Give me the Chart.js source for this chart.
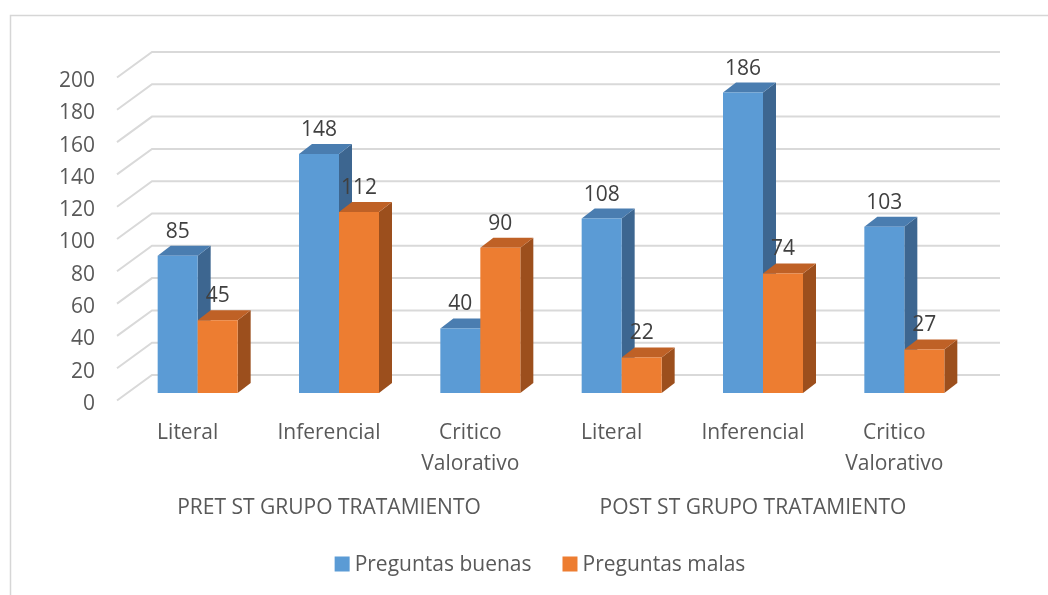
<!DOCTYPE html>
<html>
<head>
<meta charset="utf-8">
<script src="https://cdn.jsdelivr.net/npm/chart.js@4.4.1/dist/chart.umd.min.js"></script>
<style>
  html, body { margin: 0; padding: 0; background: #fff; }
  canvas { display: block; }
</style>
</head>
<body>
<canvas id="grafico" width="1048" height="595"></canvas>
<script>
const categorias = ["Literal", "Inferencial", ["Critico", "Valorativo"], "Literal", "Inferencial", ["Critico", "Valorativo"]];
const grupos = ["PRET ST GRUPO TRATAMIENTO", "POST ST GRUPO TRATAMIENTO"];
const buenas = [85, 148, 40, 108, 186, 103];
const malas = [45, 112, 90, 22, 74, 27];
const yMax = 200;
const yPaso = 20;

const frente = ["#5b9bd5", "#ed7d31"];
const tapa = ["#4a7db0", "#bf6126"];
const lado = ["#3d6690", "#9c4f1d"];

// profundidad de las barras y de las paredes (perspectiva)
const prof = { dx: 13, dy: -10 };
const fondo = { dx: 25, dy: -18 };
const delante = { dx: -10, dy: 7.5 };

Chart.defaults.font.family = "'Open Sans', sans-serif";
Chart.defaults.font.size = 21;
Chart.defaults.color = "#595959";

const efecto3d = {
  id: "efecto3d",
  beforeDraw(chart) {
    const ctx = chart.ctx;
    ctx.save();
    ctx.strokeStyle = "#d6d6d6";
    ctx.lineWidth = 1.5;
    ctx.beginPath();
    ctx.moveTo(10.5, 595);
    ctx.lineTo(10.5, 15.5);
    ctx.lineTo(1048, 15.5);
    ctx.stroke();
    ctx.restore();
  },
  beforeDatasetsDraw(chart) {
    const { ctx, chartArea, scales } = chart;
    ctx.save();
    ctx.strokeStyle = "#d9d9d9";
    ctx.lineWidth = 2;
    scales.y.ticks.forEach((t) => {
      const y = scales.y.getPixelForValue(t.value);
      ctx.beginPath();
      ctx.moveTo(chartArea.left + delante.dx, y + delante.dy);
      ctx.lineTo(chartArea.left + fondo.dx, y + fondo.dy);
      ctx.lineTo(chartArea.right + fondo.dx, y + fondo.dy);
      ctx.stroke();
    });
    ctx.restore();

    // barras: primero la serie 0, luego la 1, cada una con lado + tapa + frente
    chart.data.datasets.forEach((ds, i) => {
      const meta = chart.getDatasetMeta(i);
      ctx.save();
      meta.data.forEach((bar) => {
        const izq = bar.x - bar.width / 2;
        const der = bar.x + bar.width / 2;
        ctx.fillStyle = lado[i];
        ctx.beginPath();
        ctx.moveTo(der, bar.y);
        ctx.lineTo(der + prof.dx, bar.y + prof.dy);
        ctx.lineTo(der + prof.dx, bar.base + prof.dy);
        ctx.lineTo(der, bar.base);
        ctx.closePath();
        ctx.fill();
        ctx.fillStyle = tapa[i];
        ctx.beginPath();
        ctx.moveTo(izq, bar.y);
        ctx.lineTo(der, bar.y);
        ctx.lineTo(der + prof.dx, bar.y + prof.dy);
        ctx.lineTo(izq + prof.dx, bar.y + prof.dy);
        ctx.closePath();
        ctx.fill();
        bar.draw(ctx);
      });
      ctx.restore();
    });
  },
  beforeDatasetDraw() {
    return false; // ya dibujadas arriba
  },
  afterDatasetsDraw(chart) {
    const ctx = chart.ctx;
    ctx.save();
    ctx.font = "21px 'Open Sans', sans-serif";
    ctx.fillStyle = "#404040";
    ctx.textAlign = "center";
    ctx.textBaseline = "middle";
    chart.data.datasets.forEach((ds, i) => {
      chart.getDatasetMeta(i).data.forEach((bar, j) => {
        ctx.fillText(ds.data[j], bar.x, bar.y - 24);
      });
    });
    ctx.restore();
  },
  afterDraw(chart) {
    // leyenda
    const ctx = chart.ctx;
    ctx.save();
    ctx.font = "21px 'Open Sans', sans-serif";
    ctx.textBaseline = "middle";
    ctx.textAlign = "left";
    const caja = 15, hueco = 5, sep = 31, yc = 564;
    const anchos = chart.data.datasets.map((ds) => caja + hueco + ctx.measureText(ds.label).width);
    const total = anchos.reduce((a, b) => a + b, 0) + sep * (anchos.length - 1);
    let x = 540 - total / 2;
    chart.data.datasets.forEach((ds, i) => {
      ctx.fillStyle = ds.backgroundColor;
      ctx.fillRect(x, yc - caja / 2, caja, caja);
      ctx.fillStyle = "#595959";
      ctx.fillText(ds.label, x + caja + hueco, yc + 1);
      x += anchos[i] + sep;
    });
    ctx.restore();
  },
};

new Chart(document.getElementById("grafico"), {
  type: "bar",
  data: {
    labels: categorias,
    datasets: [
      { label: "Preguntas buenas", data: buenas, backgroundColor: frente[0] },
      { label: "Preguntas malas", data: malas, backgroundColor: frente[1] },
    ],
  },
  options: {
    responsive: false,
    animation: false,
    layout: { padding: { left: 0, right: 73, top: 70, bottom: 42 } },
    datasets: { bar: { categoryPercentage: 0.566, barPercentage: 1 } },
    scales: {
      x: {
        weight: 0,
        grid: { display: false, drawTicks: false },
        border: { display: false },
        ticks: {
          padding: 25,
          labelOffset: -10,
          maxRotation: 0,
          autoSkip: false,
          font: { size: 21, lineHeight: 1.45 },
        },
        afterFit: (s) => { s.height = 100; },
      },
      x2: {
        type: "category",
        position: "bottom",
        weight: 1,
        labels: grupos,
        offset: true,
        grid: { display: false, drawTicks: false },
        border: { display: false },
        ticks: { padding: 2, labelOffset: -10, maxRotation: 0, font: { size: 21, lineHeight: 1.2 } },
        afterFit: (s) => { s.height = 60; },
      },
      y: {
        min: 0,
        max: yMax,
        grid: { display: false, drawTicks: false },
        border: { display: false },
        ticks: { stepSize: yPaso, padding: 32, labelOffset: 11 },
        afterFit: (s) => { s.width = 127; },
      },
    },
    plugins: {
      legend: { display: false },
      tooltip: { enabled: false },
    },
  },
  plugins: [efecto3d],
});
</script>
</body>
</html>
